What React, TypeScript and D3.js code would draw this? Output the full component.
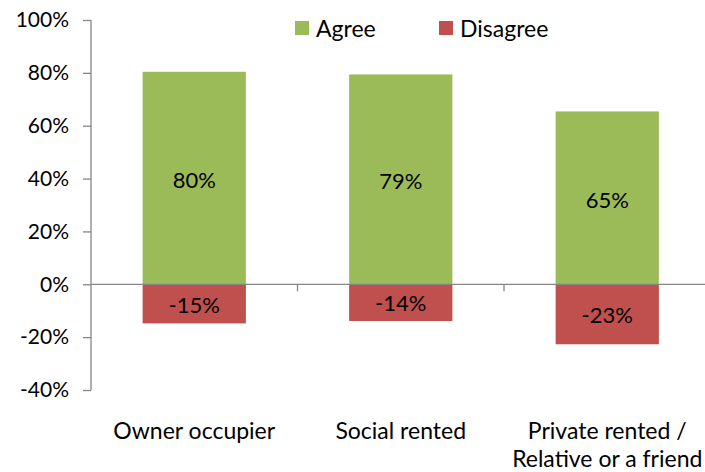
import React, { useEffect, useRef } from "react";
import * as d3 from "d3";

const categories = ["Owner occupier", "Social rented", "Private rented /\nRelative or a friend"];
const agreeValues = [80.4, 79.4, 65.4];
const disagreeValues = [-14.8, -13.9, -22.7];
const yTicks = [-40, -20, 0, 20, 40, 60, 80, 100];
const seriesNames = ["Agree", "Disagree"];

const colors: Record<string, string> = { Agree: "#9bbb59", Disagree: "#c0504d" };
const FONT = "Lato, 'Open Sans', sans-serif";

const pct = (v: number) => `${Math.round(v)}%`;

export default function App() {
  const svgRef = useRef<SVGSVGElement>(null);

  useEffect(() => {
    const width = 705;
    const height = 472;
    const margin = { top: 20, left: 91, bottom: 82 };
    const plotRight = 91 + 3 * 206.5;

    const svg = d3.select(svgRef.current).attr("width", width).attr("height", height);
    svg.selectAll("*").remove();

    const x = d3.scaleBand().domain(categories).range([margin.left, plotRight]).paddingInner(0).paddingOuter(0);
    const y = d3.scaleLinear().domain([-40, 100]).range([height - margin.bottom, margin.top]);
    const barW = x.bandwidth() * 0.5;

    // y axis
    const yAxis = svg
      .append("g")
      .attr("transform", `translate(${margin.left},0)`)
      .call(d3.axisLeft(y).tickValues(yTicks).tickSize(8).tickPadding(14).tickFormat((d) => pct(+d)));
    yAxis.select(".domain").attr("stroke", "#868686").attr("stroke-width", 1.3).attr("d", `M0,${y(-40)}V${y(100)}`);
    yAxis.selectAll(".tick line").attr("stroke", "#868686").attr("stroke-width", 1.3);
    yAxis.selectAll(".tick text").attr("font-family", FONT).attr("font-size", 21).attr("fill", "#000");

    // bars
    const g = svg.append("g");
    categories.forEach((c, i) => {
      const x0 = (x(c) as number) + (x.bandwidth() - barW) / 2;
      const a = agreeValues[i];
      const dv = disagreeValues[i];
      g.append("rect").attr("x", x0).attr("width", barW).attr("y", y(a)).attr("height", y(0) - y(a)).attr("fill", colors.Agree);
      g.append("rect").attr("x", x0).attr("width", barW).attr("y", y(0)).attr("height", y(dv) - y(0)).attr("fill", colors.Disagree);
      g.append("text")
        .attr("x", x0 + barW / 2)
        .attr("y", (y(a) + y(0)) / 2 + 2)
        .attr("dy", "0.35em")
        .attr("text-anchor", "middle")
        .attr("font-family", FONT)
        .attr("font-size", 22)
        .text(pct(a));
      g.append("text")
        .attr("x", x0 + barW / 2)
        .attr("y", (y(dv) + y(0)) / 2 + 1)
        .attr("dy", "0.35em")
        .attr("text-anchor", "middle")
        .attr("font-family", FONT)
        .attr("font-size", 22)
        .text(pct(dv));
    });

    // x axis at zero
    const xAxis = svg
      .append("g")
      .attr("transform", `translate(0,${y(0)})`);
    xAxis.append("line").attr("x1", margin.left).attr("x2", plotRight).attr("stroke", "#868686").attr("stroke-width", 1.3);
    categories.forEach((c) => {
      const xe = (x(c) as number) + x.bandwidth();
      xAxis.append("line").attr("x1", xe).attr("x2", xe).attr("y1", 0).attr("y2", 7).attr("stroke", "#868686").attr("stroke-width", 1.3);
    });

    // category labels
    categories.forEach((c) => {
      const lines = c.split("\n");
      const cx = (x(c) as number) + x.bandwidth() / 2;
      const t = svg
        .append("text")
        .attr("text-anchor", "middle")
        .attr("font-family", FONT)
        .attr("font-size", 23)
        .attr("x", cx)
        .attr("y", 439);
      lines.forEach((l, j) => {
        t.append("tspan")
          .attr("x", cx)
          .attr("dy", j === 0 ? 0 : 28)
          .text(l);
      });
    });

    // legend
    const legendPos = [295, 439];
    const legend = svg.append("g");
    seriesNames.forEach((s, i) => {
      legend.append("rect").attr("x", legendPos[i]).attr("y", 21).attr("width", 14).attr("height", 14).attr("fill", colors[s]);
      legend
        .append("text")
        .attr("x", legendPos[i] + 21)
        .attr("y", 29)
        .attr("dy", "0.35em")
        .attr("font-family", FONT)
        .attr("font-size", 23)
        .text(s);
    });
  }, []);

  return (
    <div style={{ position: "absolute", left: 0, top: 0 }}>
      <svg ref={svgRef} style={{ display: "block" }} />
    </div>
  );
}
